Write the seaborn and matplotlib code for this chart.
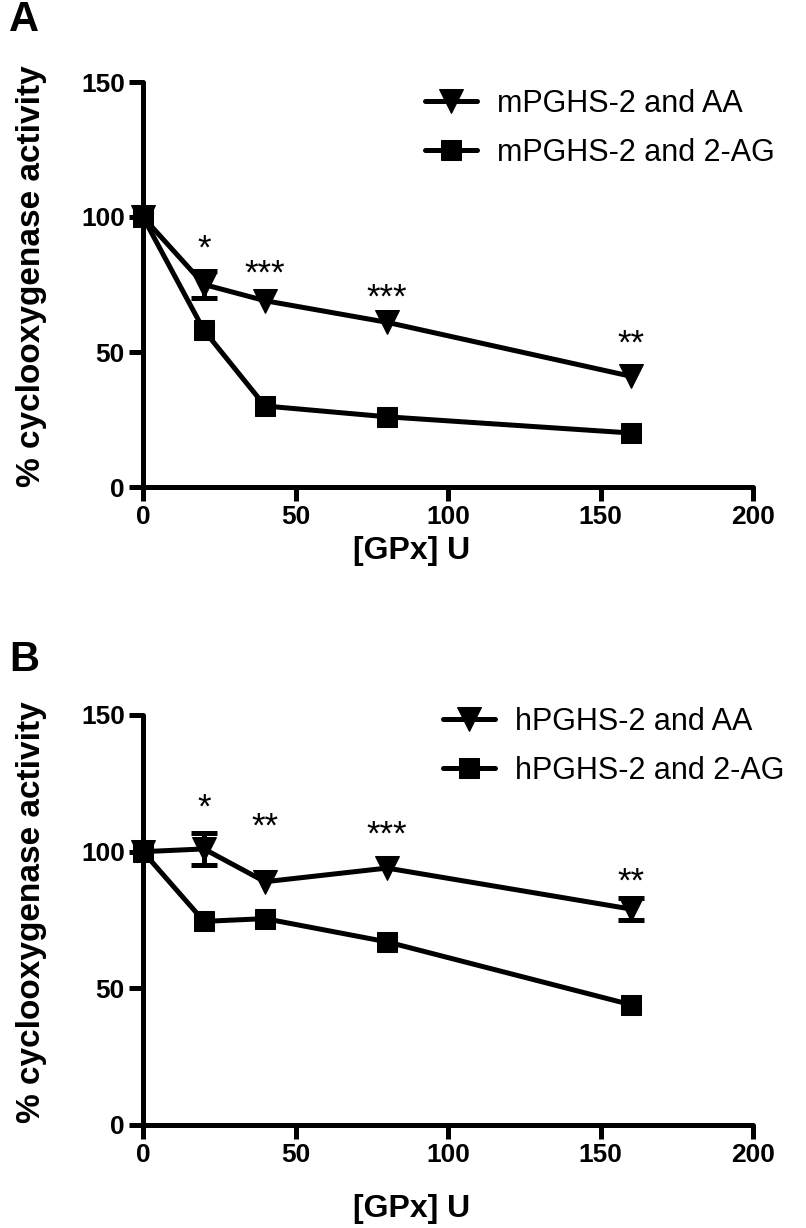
import numpy as np
import pandas as pd
import matplotlib
matplotlib.use("Agg")
import matplotlib.pyplot as plt
import seaborn as sns

sns.set_theme(style="white")
plt.rcParams['font.family'] = ['Liberation Sans', 'DejaVu Sans']
plt.rcParams.update({
    "text.color": "black",
    "axes.labelcolor": "black",
    "xtick.color": "black",
    "ytick.color": "black",
    "axes.edgecolor": "black",
})

# ---- data ----
gpx_units = [0, 20, 40, 80, 160]

a_aa = [100, 75, 69, 61, 41]
a_aa_err = [0, 5, 0, 0, 0]
a_2ag = [100, 58, 30, 26, 20]
a_labels = ["mPGHS-2 and AA", "mPGHS-2 and 2-AG"]
a_star_x = [20, 40, 80, 160]
a_star_y = [88, 79, 70, 53]
a_star_txt = ["*", "***", "***", "**"]

b_aa = [100, 101, 89, 94, 79]
b_aa_err = [0, 6, 0, 0, 4]
b_2ag = [100, 74.5, 75.5, 67, 44]
b_labels = ["hPGHS-2 and AA", "hPGHS-2 and 2-AG"]
b_star_x = [20, 40, 80, 160]
b_star_y = [116, 109, 106, 89]
b_star_txt = ["*", "**", "***", "**"]

x_ticks = [0, 50, 100, 150, 200]
y_ticks = [0, 50, 100, 150]
y_label = "% cyclooxygenase activity"
x_label = "[GPx] U"

fig = plt.figure(figsize=(8.06, 12.28), dpi=100)
W, H = 806, 1228

def make_ax(left_px, top_px, right_px, bottom_px):
    return fig.add_axes([left_px / W, 1 - bottom_px / H,
                         (right_px - left_px) / W, (bottom_px - top_px) / H])

boxA = (143, 82, 753, 487)
boxB = (143, 715, 753, 1125)
axA = make_ax(*boxA)
axB = make_ax(*boxB)

LW = 3.6
MS_TRI = 17
MS_SQ = 15

def px2ax(px, py, left, top, right, bottom):
    return ((px - left) / (right - left), (bottom - py) / (bottom - top))

def panel(ax, box, aa, aa_err, ag, labels, sx, sy, st, letter, letter_y,
          leg_px, xlab_top_px):
    df = pd.DataFrame({
        "x": gpx_units * 2,
        "y": aa + ag,
        "series": [labels[0]] * len(gpx_units) + [labels[1]] * len(gpx_units),
    })
    err_x = [x for x, e in zip(gpx_units, aa_err) if e > 0]
    err_y = [y for y, e in zip(aa, aa_err) if e > 0]
    err_e = [e for e in aa_err if e > 0]
    ax.errorbar(err_x, err_y, yerr=err_e, fmt="none", ecolor="black",
                elinewidth=LW, capsize=9.5, capthick=LW, zorder=2)
    sns.lineplot(data=df, x="x", y="y", style="series",
                 markers={labels[0]: "v", labels[1]: "s"},
                 dashes=False, color="black", linewidth=LW,
                 markersize=MS_SQ, markeredgecolor="black", ax=ax, zorder=3,
                 clip_on=False)
    for ln in ax.lines:
        if ln.get_marker() == "v":
            ln.set_markersize(MS_TRI)
    for x, y, t in zip(sx, sy, st):
        ax.text(x, y, t, ha="center", va="center", fontsize=25, color="black")
    ax.set_xlim(0, 200)
    ax.set_ylim(0, 150)
    ax.set_xticks(x_ticks)
    ax.set_yticks(y_ticks)
    for sp in ["top", "right"]:
        ax.spines[sp].set_visible(False)
    for sp in ["left", "bottom"]:
        ax.spines[sp].set_linewidth(LW)
        ax.spines[sp].set_color("black")
        ax.spines[sp].set_capstyle("round")
    ax.tick_params(axis="both", which="major", direction="out", length=10,
                   width=LW, color="black", labelcolor="black", labelsize=19,
                   pad=3, left=True, bottom=True)
    for lab in ax.get_xticklabels() + ax.get_yticklabels():
        lab.set_fontweight("bold")
    ax.set_xlabel(x_label, fontsize=23, fontweight="bold", color="black")
    ax.set_ylabel(y_label, fontsize=24, fontweight="bold", color="black")
    ax.xaxis.set_label_coords(*px2ax(412, xlab_top_px, *box))
    ax.yaxis.set_label_coords(*px2ax(47, (box[1] + box[3]) / 2 - 8, *box))
    ax.grid(False)
    leg = ax.legend(loc="upper left", bbox_to_anchor=px2ax(leg_px[0], leg_px[1], *box),
                    frameon=False, fontsize=22, handlelength=1.7, handletextpad=0.65,
                    labelspacing=0.62, borderpad=0, borderaxespad=0,
                    labelcolor="black")
    for h in leg.legend_handles:
        h.set_linewidth(LW)
        h.set_markersize(MS_TRI if h.get_marker() == "v" else MS_SQ)
    fig.text(9 / W, 1 - letter_y / H, letter, fontsize=30, fontweight="bold",
             ha="left", va="center", color="black")

panel(axA, boxA, a_aa, a_aa_err, a_2ag, a_labels,
      a_star_x, a_star_y, a_star_txt, "A", 20, (425, 89), 536)
panel(axB, boxB, b_aa, b_aa_err, b_2ag, b_labels,
      b_star_x, b_star_y, b_star_txt, "B", 660, (443, 707), 1194)

fig.savefig("out.png", dpi=100, facecolor="white")
